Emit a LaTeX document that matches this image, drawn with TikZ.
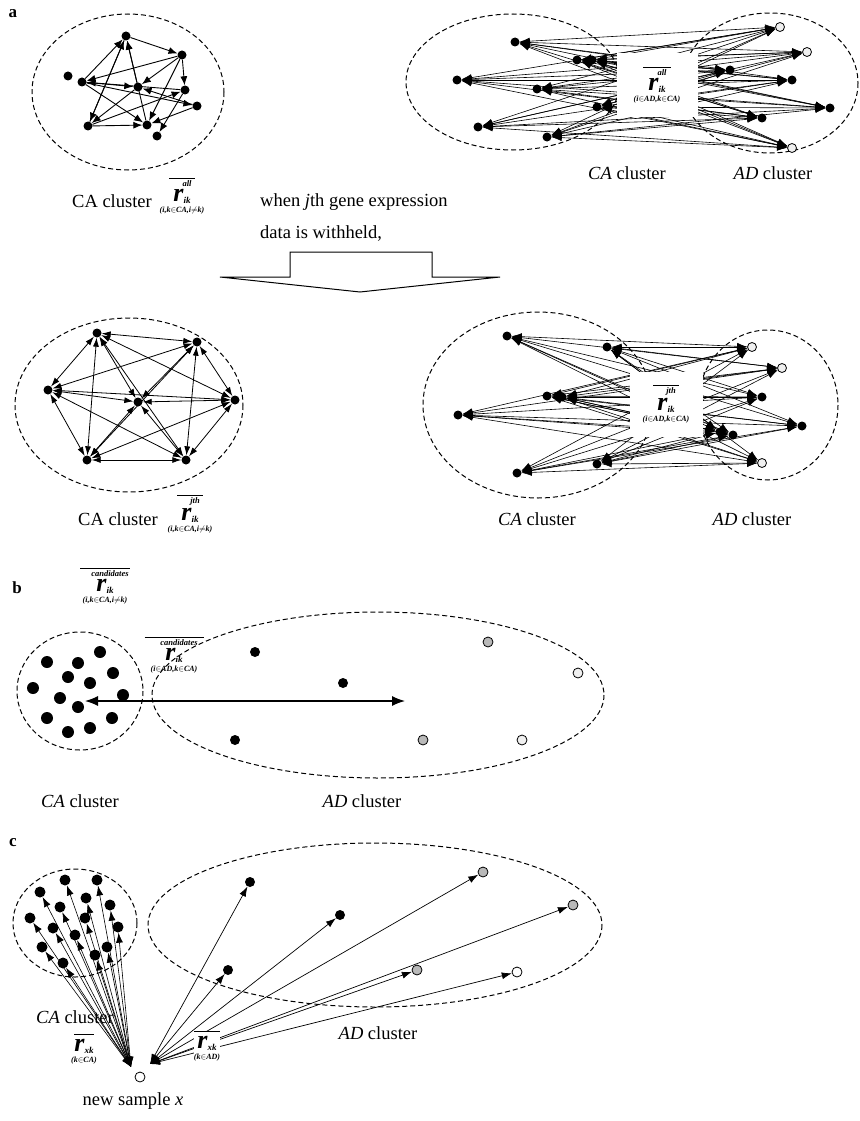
\documentclass[tikz,border=0pt]{standalone}
\usepackage{fontspec}
\setmainfont{Liberation Serif}
\usetikzlibrary{arrows.meta}
\newcommand{\rfm}[4]{\vbox{\offinterlineskip\halign{\hfil##\hfil\cr
\rule{#1}{0.9pt}\cr\noalign{\kern2pt}
\hspace*{10pt}{\fontsize{8.5}{8.5}\selectfont\bfseries\itshape #2}\cr\noalign{\kern3pt}
{\fontsize{26}{26}\selectfont\bfseries\itshape r}\raisebox{-2pt}{\fontsize{9}{9}\selectfont\bfseries\itshape #3}\cr\noalign{\kern3pt}
{\fontsize{8}{8}\selectfont\bfseries\itshape #4}\cr}}}
\begin{document}
\begin{tikzpicture}[x=1pt,y=-1pt,
 dotf/.style={circle,fill=black,inner sep=0pt,minimum size=9pt},
 dotb/.style={circle,fill=black,inner sep=0pt,minimum size=12pt},
 doth/.style={circle,draw=black,line width=0.8pt,fill=gray!55,inner sep=0pt,minimum size=9pt},
 doto/.style={circle,draw=black,line width=0.8pt,fill=gray!12,inner sep=0pt,minimum size=9pt},
 clus/.style={draw,dash pattern=on 5pt off 3pt,line width=1pt},
 bi/.style={{Latex[length=10pt,width=7pt]}-{Latex[length=10pt,width=7pt]},line width=0.6pt},
 one/.style={-{Latex[length=9pt,width=7pt]},line width=0.9pt},
 lbl/.style={font=\fontsize{18.5}{20}\selectfont,inner sep=0pt},
 pl/.style={font=\fontsize{17}{17}\selectfont\bfseries,inner sep=0pt},
 fm/.style={inner sep=0pt}]
\useasboundingbox (0,0) rectangle (859,1121);

% ---------------- panel a, top left
\node[pl] (la) at (13,14) {a};
\draw[clus] (128,92) ellipse [x radius=96,y radius=78];
\foreach \n/\x/\y in {1/126/36,2/182/55,3/68/76,4/82/82,5/138/87,6/185/90,7/197/106,8/88/126,9/147/125,10/157/136}
  \node[dotf] (p\n) at (\x,\y) {};
\foreach \s/\t in {1/2,2/4,2/5,4/1,1/8,5/1,9/1,4/7,2/6,8/9,8/6,4/9,7/9,2/9,5/8,4/5,7/5,6/10,8/1,6/4}
  \draw[one] (p\s) -- (p\t);
\node[lbl] (l1) at (112,201) {CA cluster};
\node[fm] (f1) at (182,196) {\rfm{26pt}{all}{ik}{(i,k$\in$CA,i$\neq$k)}};

% ---------------- panel a, top right
\draw[clus] (513,82) ellipse [x radius=107,y radius=68];
\draw[clus] (770,83) ellipse [x radius=88,y radius=70];
\foreach \n/\x/\y in {1/515/42,2/577/60,3/592/60,4/457/80,5/537/89,6/478/127,7/597/107,8/547/137}
  \node[dotf] (c\n) at (\x,\y) {};
\foreach \n/\x/\y in {3/792/80,4/830/108,6/730/70,7/762/118}
  \node[dotf] (d\n) at (\x,\y) {};
\foreach \n/\x/\y in {1/780/27,2/807/52,5/792/148}
  \node[doto] (d\n) at (\x,\y) {};
\foreach \i in {1,...,8}{\foreach \j in {1,...,7}{\draw[bi] (c\i) -- (d\j);}}
\node[fill=white,inner sep=0pt,minimum width=81pt,minimum height=64pt] (box1) at (657,85) {\rfm{28pt}{all}{ik}{(i$\in$AD,k$\in$CA)}};
\node[lbl] (l2) at (627,173) {\textit{CA} cluster};
\node[lbl] (l3) at (773,173) {\textit{AD} cluster};

% ---------------- withheld arrow
\node[lbl,anchor=west] (w1) at (260,202) {when \textit{j}th gene expression};
\node[lbl,anchor=west] (w2) at (260,234) {data is withheld,};
\draw[line width=1pt,line join=miter] (220,277) -- (290,277) -- (290,252) -- (432,252) -- (432,277) -- (500,277) -- (360,292) -- cycle;

% ---------------- panel a, second left
\draw[clus] (129,405) ellipse [x radius=114,y radius=87];
\foreach \n/\x/\y in {1/97/333,2/197/342,3/48/390,4/138/402,5/235/400,6/87/460,7/186/460}
  \node[dotf] (q\n) at (\x,\y) {};
\foreach \i in {1,...,6}{\pgfmathtruncatemacro{\s}{\i+1}\foreach \j in {\s,...,7}{\draw[bi,line width=0.8pt,{Latex[length=9pt,width=6pt]}-{Latex[length=9pt,width=6pt]}] (q\i) -- (q\j);}}
\node[lbl] (l4) at (118,519) {CA cluster};
\node[fm] (f4) at (190,514) {\rfm{26pt}{jth}{ik}{(i,k$\in$CA,i$\neq$k)}};

% ---------------- panel a, second right
\draw[clus] (538,405) ellipse [x radius=115,y radius=93];
\draw[clus] (768,405) ellipse [x radius=70,y radius=75];
\foreach \n/\x/\y in {1/507/336,2/607/347,3/547/396,4/562/397,5/458/415,6/517/473,7/597/464}
  \node[dotf] (e\n) at (\x,\y) {};
\foreach \n/\x/\y in {3/762/397,4/802/426,5/733/435,7/720/432}
  \node[dotf] (f\n) at (\x,\y) {};
\foreach \n/\x/\y in {1/752/347,2/782/368,6/762/463}
  \node[doto] (f\n) at (\x,\y) {};
\foreach \i in {1,...,7}{\foreach \j in {1,...,7}{\draw[bi] (e\i) -- (f\j);}}
\node[fill=white,inner sep=0pt,minimum width=73pt,minimum height=65pt] (box2) at (666,404) {\rfm{26pt}{jth}{ik}{(i$\in$AD,k$\in$CA)}};
\node[lbl] (l5) at (537,519) {\textit{CA} cluster};
\node[lbl] (l6) at (752,519) {\textit{AD} cluster};

% ---------------- panel b
\node[pl] (lb) at (17,588) {b};
\node[fm] (fb1) at (105,586) {\rfm{50pt}{candidates}{ik}{(i,k$\in$CA,i$\neq$k)}};
\draw[clus] (80,691) ellipse [x radius=63,y radius=59];
\draw[clus] (378,695) ellipse [x radius=226,y radius=83];
\foreach \n/\x/\y in {1/47/662,2/78/663,3/100/652,4/68/677,5/113/673,6/90/683,7/33/688,8/60/698,9/78/707,10/123/695,11/47/718,12/112/718,13/68/732,14/90/728}
  \node[dotb] (g\n) at (\x,\y) {};
\foreach \n/\x/\y in {1/255/652,2/343/683,3/235/740}
  \node[dotf,minimum size=10pt] (h\n) at (\x,\y) {};
\foreach \n/\x/\y in {4/423/740,5/488/642}
  \node[doth,minimum size=10pt] (h\n) at (\x,\y) {};
\foreach \n/\x/\y in {6/578/673,7/522/740}
  \node[doto,minimum size=10pt] (h\n) at (\x,\y) {};
\node[fm] (fb2) at (174,655) {\rfm{59pt}{candidates}{ik}{(i$\in$AD,k$\in$CA)}};
\coordinate (bL) at (85,701);
\coordinate (bR) at (405,701);
\draw[line width=1.3pt,{Latex[length=13pt,width=10pt]}-{Latex[length=13pt,width=10pt]}] (bL) -- (bR);
\node[lbl] (l7) at (80,801) {\textit{CA} cluster};
\node[lbl] (l8) at (362,801) {\textit{AD} cluster};

% ---------------- panel c
\node[pl] (lc) at (13,843) {c};
\draw[clus] (75,923) ellipse [x radius=62,y radius=54];
\draw[clus] (375,925) ellipse [x radius=227,y radius=82];
\foreach \n/\x/\y in {1/65/880,2/97/880,3/40/892,4/60/907,5/30/918,6/85/918,7/110/905,8/53/928,9/75/935,10/118/927,11/42/947,12/63/963,13/95/955,14/107/947,15/86/898}
  \node[dotf,minimum size=11pt] (m\n) at (\x,\y) {};
\foreach \n/\x/\y in {1/250/882,2/340/915,3/228/970}
  \node[dotf,minimum size=10pt] (n\n) at (\x,\y) {};
\foreach \n/\x/\y in {4/417/970,5/483/872,6/573/905}
  \node[doth,minimum size=10pt] (n\n) at (\x,\y) {};
\node[doto,fill=white,minimum size=10pt] (n7) at (517,972) {};
\node[lbl] (l9) at (75,1017) {\textit{CA} cluster};
\node[lbl] (l10) at (378,1033) {\textit{AD} cluster};
\coordinate (sCA) at (131,1067);
\coordinate (sAD) at (150,1064);
\foreach \i in {1,...,15}{\draw[bi,line width=0.6pt] (sCA) -- (m\i);}
\foreach \i in {1,...,7}{\draw[bi,line width=0.7pt] (sAD) -- (n\i);}
\node[fm] (fc1) at (84,1049) {\rfm{20pt}{}{xk}{(k$\in$CA)}};
\node[fm,fill=white] (fc2) at (207,1046) {\rfm{26pt}{}{xk}{(k$\in$AD)}};
\node[circle,draw,line width=0.8pt,fill=white,inner sep=0pt,minimum size=10pt] (sx) at (140,1077) {};
\node[lbl] (l11) at (133,1101) {new sample \textit{x}};
\end{tikzpicture}
\end{document}
